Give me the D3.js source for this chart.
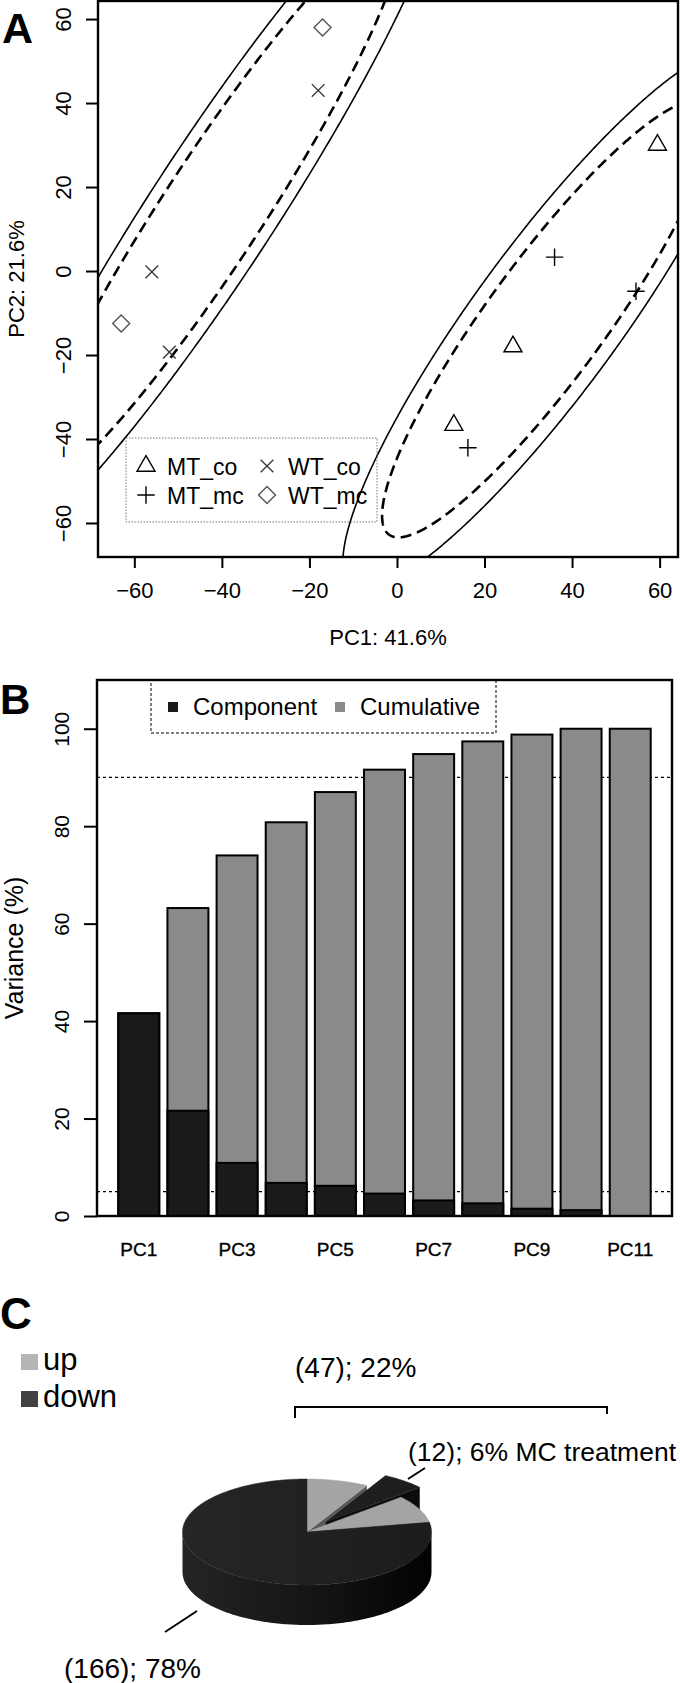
<!DOCTYPE html>
<html><head><meta charset="utf-8">
<script src="https://cdn.jsdelivr.net/npm/d3@7"></script>
<style>
body{margin:0;background:#fff}
svg{display:block}
text{font-family:"Liberation Sans",Arial,Helvetica,sans-serif;fill:#000}
</style>
</head><body>
<svg id="fig" width="680" height="1683" xmlns="http://www.w3.org/2000/svg"></svg>
<script>
// ================= DATA =================
// Panel A: PCA scores
const pcaGroups = ["MT_co", "MT_mc", "WT_co", "WT_mc"];
const pc1Values = [59.5, 26.5, 13.0, 36.0, 54.6, 16.2, -18.0, -56.0, -52.0, -17.0, -63.0];
const pc2Values = [30.0, -18.0, -36.7, 3.3, -4.8, -42.1, 43.0, -0.2, -19.3, 58.0, -12.5];
const sampleGroups = ["MT_co", "MT_co", "MT_co", "MT_mc", "MT_mc", "MT_mc", "WT_co", "WT_co", "WT_co", "WT_mc", "WT_mc"];
const pcaTicks = [-60, -40, -20, 0, 20, 40, 60];
const pcaTitles = ["PC1: 41.6%", "PC2: 21.6%"];
// confidence ellipses: centre, semi-axes, rotation (deg)
const ellipseGroup = ["WT", "WT", "MT", "MT"];
const ellipseLevel = [0.95, 0.99, 0.95, 0.99];
const ellipseCx = [-42.0, -42.0, 34.3, 34.3];
const ellipseCy = [14.5, 14.5, -11.4, -11.4];
const ellipseMajor = [78.4, 97.0, 62.8, 77.7];
const ellipseMinor = [11.6, 14.4, 13.6, 16.9];
const ellipseAngle = [58.0, 58.0, 55.0, 55.0];

// Panel B: variance explained
const pcNames = ["PC1", "PC2", "PC3", "PC4", "PC5", "PC6", "PC7", "PC8", "PC9", "PC10", "PC11"];
const pcLabelsShown = ["PC1", "PC3", "PC5", "PC7", "PC9", "PC11"];
const componentVar = [41.6, 21.6, 10.9, 6.8, 6.2, 4.6, 3.2, 2.6, 1.5, 1.2, 0.0];
const cumulativeVar = [41.6, 63.2, 74.0, 80.8, 87.0, 91.6, 94.8, 97.4, 98.8, 100.0, 100.0];
const varianceTicks = [0, 20, 40, 60, 80, 100];
const varianceRefLines = [90, 5];
const varianceSeries = ["Component", "Cumulative"];

// Panel C: regulated genes pie
const pieLegend = ["up", "down"];
const pieSliceDir = ["up", "down", "up", "down"];
const pieCounts = [17, 12, 18, 166];
const pieExploded = [false, true, false, false];
const pieLabelGroup = "(47); 22%";
const pieLabelSmall = "(12); 6% MC treatment";
const pieLabelBig = "(166); 78%";

// ================= DRAW =================
const svg = d3.select("#fig");
svg.append("rect").attr("width", 680).attr("height", 1683).attr("fill", "#fff");
const defs = svg.append("defs");

// ---------- Panel A ----------
const A = {l: 98, r: 678, t: 1, b: 557};
const xA = d3.scaleLinear().domain([-68.3, 64.2]).range([A.l, A.r]);
const yA = d3.scaleLinear().domain([-68.1, 64.3]).range([A.b, A.t]);
defs.append("clipPath").attr("id", "clipA").append("rect")
  .attr("x", A.l).attr("y", A.t).attr("width", A.r - A.l).attr("height", A.b - A.t);
const gA = svg.append("g");

// ellipses
const ellLine = d3.line().x(d => xA(d[0])).y(d => yA(d[1]));
const gEll = gA.append("g").attr("clip-path", "url(#clipA)");
ellipseCx.forEach((cx, i) => {
  const th = ellipseAngle[i] * Math.PI / 180;
  const a = ellipseMajor[i], b = ellipseMinor[i], cy = ellipseCy[i];
  const pts = d3.range(0, 721).map(k => {
    const t = k * Math.PI / 360;
    const u = a * Math.cos(t), v = b * Math.sin(t);
    return [cx + u * Math.cos(th) - v * Math.sin(th), cy + u * Math.sin(th) + v * Math.cos(th)];
  });
  const dashed = ellipseLevel[i] < 0.97;
  gEll.append("path").attr("d", ellLine(pts)).attr("fill", "none")
    .attr("stroke", "#000")
    .attr("stroke-width", dashed ? 2.6 : 1.6)
    .attr("stroke-dasharray", dashed ? "11,6" : null);
});

// custom R-like symbols
const symTriangle = {draw(c, s) { const u = Math.sqrt(s); c.moveTo(0, -1.155 * u); c.lineTo(u, 0.578 * u); c.lineTo(-u, 0.578 * u); c.closePath(); }};
const symPlus = {draw(c, s) { const u = Math.sqrt(s); c.moveTo(-u, 0); c.lineTo(u, 0); c.moveTo(0, -u); c.lineTo(0, u); }};
const symTimes = {draw(c, s) { const u = Math.sqrt(s); c.moveTo(-u, -u); c.lineTo(u, u); c.moveTo(-u, u); c.lineTo(u, -u); }};
const symDiamond = {draw(c, s) { const u = Math.sqrt(s); c.moveTo(0, -u); c.lineTo(u, 0); c.lineTo(0, u); c.lineTo(-u, 0); c.closePath(); }};
const groupSym = {MT_co: symTriangle, MT_mc: symPlus, WT_co: symTimes, WT_mc: symDiamond};
const groupSize = {MT_co: 81, MT_mc: 76, WT_co: 40, WT_mc: 72};
const groupCol = {MT_co: "#000", MT_mc: "#000", WT_co: "#3a3a3a", WT_mc: "#555"};

gA.append("g").selectAll("path").data(pc1Values.map((v, i) => ({x: v, y: pc2Values[i], g: sampleGroups[i]})))
  .join("path")
  .attr("transform", d => `translate(${xA(d.x)},${yA(d.y)})`)
  .attr("d", d => d3.symbol().type(groupSym[d.g]).size(groupSize[d.g])())
  .attr("fill", "none").attr("stroke", d => groupCol[d.g]).attr("stroke-width", 1.4);

// box
gA.append("rect").attr("x", A.l).attr("y", A.t).attr("width", A.r - A.l).attr("height", A.b - A.t)
  .attr("fill", "none").attr("stroke", "#000").attr("stroke-width", 2.4);

// axes
const axA_x = gA.append("g").attr("transform", `translate(0,${A.b})`)
  .call(d3.axisBottom(xA).tickValues(pcaTicks).tickSize(11).tickPadding(10));
axA_x.select(".domain").remove();
axA_x.selectAll(".tick line").attr("stroke-width", 2);
axA_x.selectAll(".tick text").attr("font-size", 22).attr("font-family", null).attr("y", 0).attr("dy", 0)
  .attr("transform", "translate(0,41)");
const axA_y = gA.append("g").attr("transform", `translate(${A.l},0)`)
  .call(d3.axisLeft(yA).tickValues(pcaTicks).tickSize(12));
axA_y.select(".domain").remove();
axA_y.selectAll(".tick line").attr("stroke-width", 2);
axA_y.selectAll(".tick text").attr("font-size", 22).attr("font-family", null)
  .attr("x", 0).attr("y", 0).attr("dy", "0.36em").attr("text-anchor", "middle")
  .attr("transform", "translate(-35,0) rotate(-90)");
svg.selectAll(".tick text").attr("fill", "#000");

gA.append("text").attr("x", (A.l + A.r) / 2).attr("y", 645).attr("text-anchor", "middle")
  .attr("font-size", 22).text(pcaTitles[0]);
gA.append("text").attr("transform", `translate(16,${(A.t + A.b) / 2}) rotate(-90)`)
  .attr("dy", "0.36em").attr("text-anchor", "middle").attr("font-size", 22).text(pcaTitles[1]);

// legend A
const legA = gA.append("g");
legA.append("rect").attr("x", 126).attr("y", 438).attr("width", 251).attr("height", 84)
  .attr("fill", "none").attr("stroke", "#777").attr("stroke-width", 1).attr("stroke-dasharray", "1.5,1.5");
const legPos = {MT_co: [146, 466], MT_mc: [146, 495], WT_co: [267, 466], WT_mc: [267, 495]};
pcaGroups.forEach(g => {
  const [lx, ly] = legPos[g];
  legA.append("path").attr("transform", `translate(${lx},${ly})`)
    .attr("d", d3.symbol().type(groupSym[g]).size(groupSize[g])())
    .attr("fill", "none").attr("stroke", groupCol[g]).attr("stroke-width", 1.4);
  legA.append("text").attr("x", lx + 21).attr("y", ly + 9).attr("font-size", 23).text(g);
});

svg.append("text").attr("x", 2).attr("y", 43).attr("font-size", 43).attr("font-weight", "bold").text("A");

// ---------- Panel B ----------
const B = {l: 97, r: 672, t: 680, b: 1216};
const xB = d3.scaleLinear().domain([-0.32, 13.72]).range([B.l, B.r]);
const yB = d3.scaleLinear().domain([0, 110]).range([B.b, B.t]);
const gB = svg.append("g");

gB.append("g").selectAll("line").data(varianceRefLines).join("line")
  .attr("x1", B.l).attr("x2", B.r).attr("y1", d => yB(d)).attr("y2", d => yB(d))
  .attr("stroke", "#000").attr("stroke-width", 1.2).attr("stroke-dasharray", "3,3");

const barLeft = i => xB(0.2 + 1.2 * i);
const barW = xB(1) - xB(0);
gB.append("g").selectAll("rect").data(cumulativeVar).join("rect")
  .attr("x", (d, i) => barLeft(i)).attr("width", barW)
  .attr("y", d => yB(d)).attr("height", d => yB(0) - yB(d))
  .attr("fill", "#8a8a8a").attr("stroke", "#000").attr("stroke-width", 2);
gB.append("g").selectAll("rect").data(componentVar).join("rect")
  .attr("x", (d, i) => barLeft(i)).attr("width", barW)
  .attr("y", d => yB(d)).attr("height", d => yB(0) - yB(d))
  .attr("fill", "#1a1a1a").attr("stroke", "#000").attr("stroke-width", d => d > 0 ? 2 : 0);

gB.append("rect").attr("x", B.l).attr("y", B.t).attr("width", B.r - B.l).attr("height", B.b - B.t)
  .attr("fill", "none").attr("stroke", "#000").attr("stroke-width", 2.4);

const axB_y = gB.append("g").attr("transform", `translate(${B.l},0)`)
  .call(d3.axisLeft(yB).tickValues(varianceTicks).tickSize(13));
axB_y.select(".domain").remove();
axB_y.selectAll(".tick line").attr("stroke-width", 2);
axB_y.selectAll(".tick text").attr("font-size", 21).attr("font-family", null).attr("fill", "#000")
  .attr("x", 0).attr("y", 0).attr("dy", "0.36em").attr("text-anchor", "middle")
  .attr("transform", "translate(-36,0) rotate(-90)");

gB.append("g").selectAll("text").data(pcLabelsShown).join("text")
  .attr("x", d => barLeft(pcNames.indexOf(d)) + barW / 2).attr("y", 1256)
  .attr("text-anchor", "middle").attr("font-size", 19).attr("stroke", "#000").attr("stroke-width", 0.35)
  .text(d => d);

gB.append("text").attr("transform", `translate(14,${(B.t + B.b) / 2}) rotate(-90)`)
  .attr("dy", "0.36em").attr("text-anchor", "middle").attr("font-size", 25).text("Variance (%)");

// legend B
const legB = gB.append("g");
legB.append("rect").attr("x", 151).attr("y", B.t).attr("width", 345).attr("height", 53)
  .attr("fill", "none").attr("stroke", "#000").attr("stroke-width", 1).attr("stroke-dasharray", "3,2");
const legBcols = ["#1a1a1a", "#8a8a8a"];
const legBx = [168, 335];
varianceSeries.forEach((s, i) => {
  legB.append("rect").attr("x", legBx[i]).attr("y", 702).attr("width", 10).attr("height", 10).attr("fill", legBcols[i]);
  legB.append("text").attr("x", legBx[i] + 25).attr("y", 715).attr("font-size", 24).text(s);
});

svg.append("text").attr("x", 0).attr("y", 714).attr("font-size", 42).attr("font-weight", "bold").text("B");

// ---------- Panel C ----------
svg.append("text").attr("x", 0).attr("y", 1329).attr("font-size", 44).attr("font-weight", "bold").text("C");
const legCcols = {up: "#b5b5b5", down: "#414141"};
pieLegend.forEach((k, i) => {
  const by = [1370, 1407][i];
  svg.append("rect").attr("x", 21).attr("y", by - 16).attr("width", 17).attr("height", 16).attr("fill", legCcols[k]);
  svg.append("text").attr("x", 43).attr("y", by).attr("font-size", 31).text(k);
});

const P = {cx: 307, cy: 1532, rx: 124.5, ry: 53, h: 40, explode: 0.24};
const grad = defs.append("linearGradient").attr("id", "wallDark").attr("gradientUnits", "userSpaceOnUse")
  .attr("x1", P.cx - P.rx).attr("x2", P.cx + P.rx).attr("y1", 0).attr("y2", 0);
grad.append("stop").attr("offset", 0).attr("stop-color", "#242424");
grad.append("stop").attr("offset", 0.55).attr("stop-color", "#141414");
grad.append("stop").attr("offset", 1).attr("stop-color", "#020202");
const gradTop = defs.append("linearGradient").attr("id", "topDark").attr("gradientUnits", "userSpaceOnUse")
  .attr("x1", P.cx - P.rx).attr("x2", P.cx + P.rx).attr("y1", 0).attr("y2", 0);
gradTop.append("stop").attr("offset", 0).attr("stop-color", "#262626");
gradTop.append("stop").attr("offset", 1).attr("stop-color", "#1c1c1c");

const pieArcs = d3.pie().sort(null).value(d => d.count)(
  pieCounts.map((c, i) => ({count: c, dir: pieSliceDir[i], exploded: pieExploded[i]})));
const rimPt = (t, off, dz) => [P.cx + off[0] + P.rx * Math.sin(t), P.cy + off[1] - P.ry * Math.cos(t) + dz];
const arcPts = (t0, t1, off, dz) => {
  const n = Math.max(2, Math.ceil((t1 - t0) / 0.02));
  return d3.range(n + 1).map(k => rimPt(t0 + (t1 - t0) * k / n, off, dz));
};
const pl = d3.line();
const topCol = {up: "#a4a4a4", down: "url(#topDark)"};
const cutCol = {up: "#5a5a5a", down: "#0c0c0c"};
const wallCol = {up: "#707070", down: "url(#wallDark)"};
pieArcs.forEach(a => {
  const mid = (a.startAngle + a.endAngle) / 2;
  a.off = a.data.exploded ? [P.explode * P.rx * Math.sin(mid), -P.explode * P.ry * Math.cos(mid)] : [0, 0];
});
const gP = svg.append("g");
// front-facing radial cut faces
pieArcs.forEach(a => {
  const faces = [];
  if (Math.sin(a.endAngle) > 0.001) faces.push(a.endAngle);
  if (Math.sin(a.startAngle) < -0.001) faces.push(a.startAngle);
  faces.forEach(t => {
    const c0 = [P.cx + a.off[0], P.cy + a.off[1]];
    const r0 = rimPt(t, a.off, 0), r1 = rimPt(t, a.off, P.h);
    const c1 = [c0[0], c0[1] + P.h];
    gP.append("path").attr("d", pl([c0, r0, r1, c1]) + "Z").attr("fill", cutCol[a.data.dir]);
  });
});
// outer walls (front half only)
pieArcs.forEach(a => {
  const lo = Math.max(a.startAngle, Math.PI / 2), hi = Math.min(a.endAngle, 3 * Math.PI / 2);
  if (hi <= lo) return;
  const pts = arcPts(lo, hi, a.off, 0).concat(arcPts(lo, hi, a.off, P.h).reverse());
  gP.append("path").attr("d", pl(pts) + "Z").attr("fill", wallCol[a.data.dir]);
});
// top faces
pieArcs.forEach(a => {
  const pts = [[P.cx + a.off[0], P.cy + a.off[1]]].concat(arcPts(a.startAngle, a.endAngle, a.off, 0));
  gP.append("path").attr("d", pl(pts) + "Z").attr("fill", topCol[a.data.dir])
    .attr("stroke", topCol[a.data.dir]).attr("stroke-width", 0.5);
});

// labels
svg.append("text").attr("x", 295).attr("y", 1377).attr("font-size", 28).text(pieLabelGroup);
svg.append("path").attr("d", "M295,1418V1407H607V1414").attr("fill", "none").attr("stroke", "#000").attr("stroke-width", 2);
svg.append("text").attr("x", 408).attr("y", 1461).attr("font-size", 26.5).text(pieLabelSmall);
svg.append("line").attr("x1", 408).attr("y1", 1479).attr("x2", 425).attr("y2", 1468).attr("stroke", "#000").attr("stroke-width", 2);
svg.append("text").attr("x", 64).attr("y", 1678).attr("font-size", 28).text(pieLabelBig);
svg.append("line").attr("x1", 165).attr("y1", 1632).attr("x2", 197).attr("y2", 1611).attr("stroke", "#000").attr("stroke-width", 2);
</script>
</body></html>
